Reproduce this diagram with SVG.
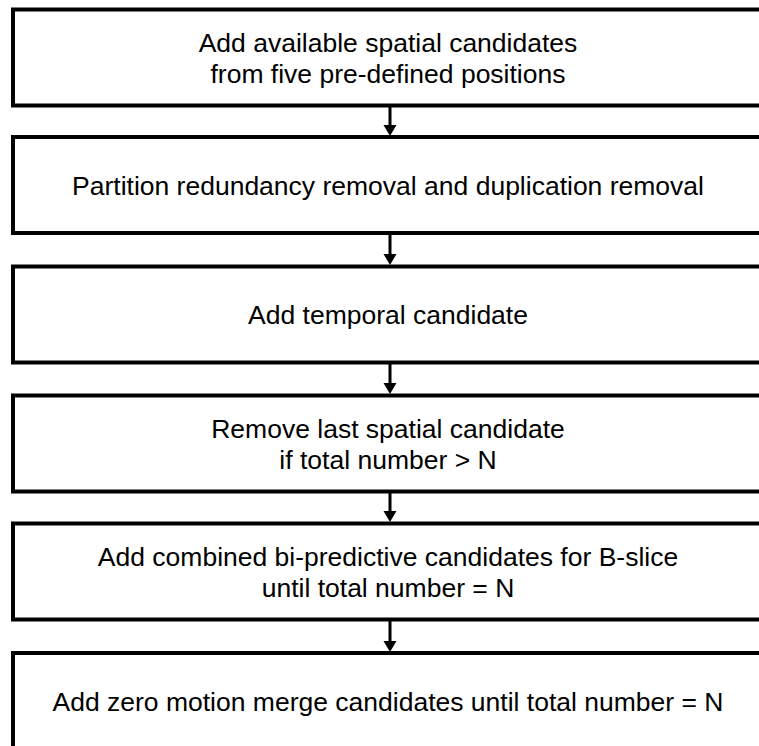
<svg xmlns="http://www.w3.org/2000/svg" width="759" height="746" viewBox="0 0 759 746">
<style>
.box{fill:#fff;stroke:#000;stroke-width:4}
.t{font-family:"Liberation Sans",Arial,sans-serif;font-size:26.5px;fill:#000;text-anchor:middle}
.sh{stroke:#000;stroke-width:3;fill:none}
.hd{fill:#000}
</style>
<rect width="759" height="746" fill="#fff"/>
<g id="connectors">
<line class="sh" x1="390" y1="105.5" x2="390" y2="126"/><polygon class="hd" points="383.5,125 396.5,125 390,136"/>
<line class="sh" x1="390" y1="233" x2="390" y2="255"/><polygon class="hd" points="383.5,254 396.5,254 390,265"/>
<line class="sh" x1="390" y1="362.5" x2="390" y2="384"/><polygon class="hd" points="383.5,383 396.5,383 390,394"/>
<line class="sh" x1="390" y1="491.5" x2="390" y2="512"/><polygon class="hd" points="383.5,511 396.5,511 390,522"/>
<line class="sh" x1="390" y1="619.5" x2="390" y2="642"/><polygon class="hd" points="383.5,641 396.5,641 390,652"/>
</g>
<g id="n1"><rect class="box" x="13" y="9.5" width="750" height="96"/>
<text class="t" x="388" y="51.5">Add available spatial candidates</text>
<text class="t" x="388" y="83">from five pre-defined positions</text></g>
<g id="n2"><rect class="box" x="13" y="137" width="750" height="96"/>
<text class="t" x="388" y="194.5">Partition redundancy removal and duplication removal</text></g>
<g id="n3"><rect class="box" x="13" y="266.5" width="750" height="96"/>
<text class="t" x="388" y="324">Add temporal candidate</text></g>
<g id="n4"><rect class="box" x="13" y="395.5" width="750" height="96"/>
<text class="t" x="388" y="437.5">Remove last spatial candidate</text>
<text class="t" x="388" y="469">if total number &gt; N</text></g>
<g id="n5"><rect class="box" x="13" y="523.5" width="750" height="96"/>
<text class="t" x="388" y="565.5">Add combined bi-predictive candidates for B-slice</text>
<text class="t" x="388" y="597">until total number = N</text></g>
<g id="n6"><rect class="box" x="13" y="653" width="750" height="110"/>
<text class="t" x="388" y="710.5">Add zero motion merge candidates until total number = N</text></g>
</svg>
